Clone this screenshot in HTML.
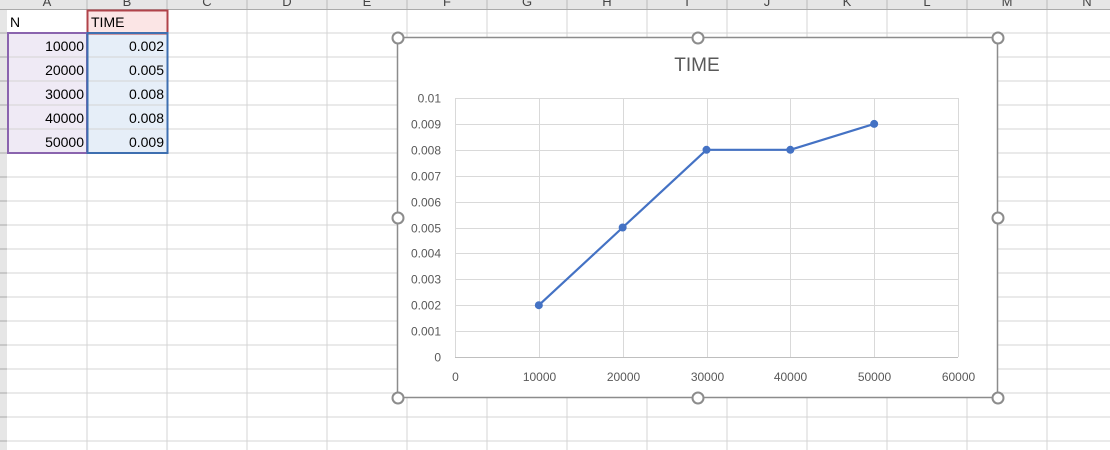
<!DOCTYPE html>
<html><head><meta charset="utf-8"><style>
body{margin:0;width:1110px;height:450px;overflow:hidden;background:#fff;font-family:"Liberation Sans",sans-serif;}
svg{display:block}
</style></head><body>
<svg width="1110" height="450">
<g id="grid"></g>
<g id="sheet"></g>
<g id="chart"></g>
</svg>
<script>
const categories=[10000,20000,30000,40000,50000];
const timeValues=[0.002,0.005,0.008,0.008,0.009];
const yTicks=[0,0.001,0.002,0.003,0.004,0.005,0.006,0.007,0.008,0.009,0.01];
const yTickLabels=["0","0.001","0.002","0.003","0.004","0.005","0.006","0.007","0.008","0.009","0.01"];
const xTicks=[0,10000,20000,30000,40000,50000,60000];
const colLetters=["A","B","C","D","E","F","G","H","I","J","K","L","M","N"];
const NS="http://www.w3.org/2000/svg";
function mk(p,tag,attrs,txt){const e=document.createElementNS(NS,tag);for(const k in attrs)e.setAttribute(k,attrs[k]);if(txt!=null)e.textContent=txt;p.appendChild(e);return e;}
const grid=document.getElementById('grid');
// header row
let hdr=mk(grid,'rect',{x:0,y:0,width:1110,height:9,fill:'#e6e6e6'});


let rh=mk(grid,'rect',{x:0,y:0,width:7,height:450,fill:'#e6e6e6'});


for(let i=0;i<14;i++){
  const x=7+i*80;
  mk(grid,'line',{x1:x+80,y1:9,x2:x+80,y2:450,stroke:'#d4d4d4','stroke-width':1});
  mk(grid,'line',{x1:x+80,y1:0,x2:x+80,y2:9,stroke:'#bbb','stroke-width':1});
  const t=mk(grid,'text',{x:x+40,y:6,'font-size':13,fill:'#444','text-anchor':'middle'},colLetters[i]);
  
  
}
mk(grid,'line',{x1:0,y1:9.5,x2:1110,y2:9.5,stroke:'#aaa'});
for(let r=0;r<19;r++){const y=33+r*24;mk(grid,'line',{x1:0,y1:y,x2:1110,y2:y,stroke:'#d4d4d4'});mk(grid,'line',{x1:0,y1:y,x2:7,y2:y,stroke:'#aaa'});}
// data table
const sheet=document.getElementById('sheet');
mk(sheet,'rect',{x:87,y:10,width:80,height:23,fill:'#fbe5e5'});
mk(sheet,'rect',{x:8,y:33,width:79,height:120,fill:'#efeaf5'});
mk(sheet,'rect',{x:87,y:33,width:80,height:120,fill:'#e6eef8'});
for(let r=1;r<5;r++){const y=33+r*24;mk(sheet,'line',{x1:8,y1:y,x2:167,y2:y,stroke:'#d4d4d4'});}
mk(sheet,'rect',{x:87.5,y:10.5,width:80,height:23,fill:'none',stroke:'#b0434a','stroke-width':2});
mk(sheet,'rect',{x:8,y:33,width:79,height:120,fill:'none',stroke:'#8a64ae','stroke-width':2});
mk(sheet,'rect',{x:87.5,y:33,width:80,height:120,fill:'none',stroke:'#3e6fb0','stroke-width':2});
let h1=mk(sheet,'text',{x:10,y:27,'font-size':14,fill:'#000'},'N');

let h2=mk(sheet,'text',{x:91,y:27,'font-size':14,fill:'#000'},'TIME');

categories.forEach((c,i)=>{
  const y=51+i*24;
  const a=mk(sheet,'text',{x:84,y:y,'font-size':14,'text-anchor':'end',fill:'#000'},String(c));
  
  
  const b=mk(sheet,'text',{x:164,y:y,'font-size':14,'text-anchor':'end',fill:'#000'},timeValues[i].toFixed(3));
  
  
});
// chart
const ch=document.getElementById('chart');
const L=455,R=958,T=98,B=357;
const xs=v=>L+(v-xTicks[0])/(xTicks[xTicks.length-1]-xTicks[0])*(R-L);
const ys=v=>B-(v-yTicks[0])/(yTicks[yTicks.length-1]-yTicks[0])*(B-T);
const frame=mk(ch,'rect',{x:397.5,y:37.5,width:600,height:360,fill:'#fff',stroke:'#8c8c8c','stroke-width':1.5});


const title=mk(ch,'text',{x:697,y:71,'font-size':19,fill:'#595959','text-anchor':'middle'},'TIME');


yTicks.forEach((v,i)=>{
  const y=Math.round(ys(v))+0.5;
  mk(ch,'line',{x1:L,y1:y,x2:R,y2:y,stroke:'#d9d9d9'});
  const t=mk(ch,'text',{x:441,y:y+4,'font-size':12,fill:'#595959','text-anchor':'end'},yTickLabels[i]);
  
  
});
xTicks.forEach(v=>{
  const x=Math.round(xs(v))+0.5;
  mk(ch,'line',{x1:x,y1:T,x2:x,y2:B,stroke:'#d9d9d9'});
  const t=mk(ch,'text',{x:x,y:381,'font-size':12,fill:'#595959','text-anchor':'middle'},String(v));
  
  
});
mk(ch,'line',{x1:L,y1:B+0.5,x2:R,y2:B+0.5,stroke:'#bfbfbf'});
const pts=categories.map((c,i)=>xs(c)+','+ys(timeValues[i])).join(' ');
const line=mk(ch,'polyline',{points:pts,fill:'none',stroke:'#4472c4','stroke-width':2.2,'stroke-linejoin':'round'});


categories.forEach((c,i)=>{
  const p=mk(ch,'circle',{cx:xs(c),cy:ys(timeValues[i]),r:4,fill:'#4472c4'});
  
  
});
[[398,38],[698,38],[998,38],[398,218],[998,218],[398,398],[698,398],[998,398]].forEach(h=>{
  const c=mk(ch,'circle',{cx:h[0],cy:h[1],r:5.5,fill:'#fff',stroke:'#8c8c8c','stroke-width':2});
  
  
});
</script>
</body></html>
